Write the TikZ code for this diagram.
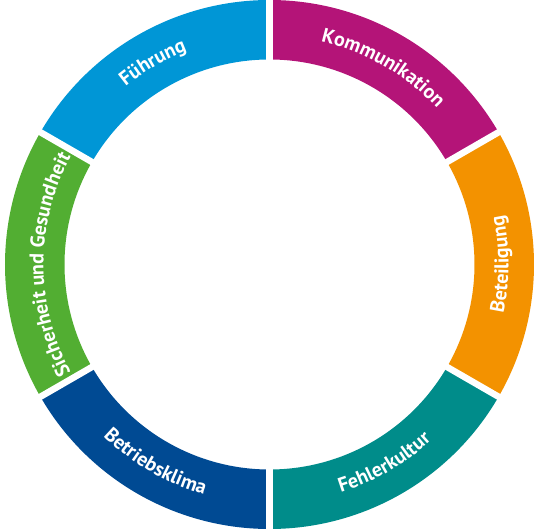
\documentclass[tikz,border=0pt]{standalone}
\usepackage{fontspec}
\setmainfont{PT Sans}
\usetikzlibrary{decorations.text}
\definecolor{FuehrungBlue}{RGB}{0,150,214}
\definecolor{KommMagenta}{RGB}{180,20,120}
\definecolor{BeteilOrange}{RGB}{243,146,0}
\definecolor{FehlerTeal}{RGB}{0,140,138}
\definecolor{KlimaBlue}{RGB}{0,74,147}
\definecolor{SicherGreen}{RGB}{82,174,50}
\newcommand\ringfont{\bfseries\fontsize{20}{20}\selectfont}

\begin{document}
\begin{tikzpicture}[
    x=1pt, y=1pt,
    gap/.style={white, line width=6.5pt},
    ringtext/.style={decorate, decoration={text along path, text align=center,
        text color=white, text={|\ringfont|#1}}}
]
\useasboundingbox (-269.5,-264.5) rectangle (276.5,264.5);
\coordinate (m) at (0,0);
% ring segments
\fill[KommMagenta] (30:205pt) arc[start angle=30, end angle=90, radius=205pt] -- (90:264.5pt) arc[start angle=90, end angle=30, radius=264.5pt] -- cycle;
\fill[FuehrungBlue] (90:205pt) arc[start angle=90, end angle=150, radius=205pt] -- (150:264.5pt) arc[start angle=150, end angle=90, radius=264.5pt] -- cycle;
\fill[SicherGreen] (150:205pt) arc[start angle=150, end angle=210, radius=205pt] -- (210:264.5pt) arc[start angle=210, end angle=150, radius=264.5pt] -- cycle;
\fill[KlimaBlue] (210:205pt) arc[start angle=210, end angle=270, radius=205pt] -- (270:264.5pt) arc[start angle=270, end angle=210, radius=264.5pt] -- cycle;
\fill[FehlerTeal] (270:205pt) arc[start angle=270, end angle=330, radius=205pt] -- (330:264.5pt) arc[start angle=330, end angle=270, radius=264.5pt] -- cycle;
\fill[BeteilOrange] (-30:205pt) arc[start angle=-30, end angle=30, radius=205pt] -- (30:264.5pt) arc[start angle=30, end angle=-30, radius=264.5pt] -- cycle;
% white gaps
\draw[gap] (30:200pt) -- (30:270pt);
\draw[gap] (90:200pt) -- (90:270pt);
\draw[gap] (150:200pt) -- (150:270pt);
\draw[gap] (210:200pt) -- (210:270pt);
\draw[gap] (270:200pt) -- (270:270pt);
\draw[gap] (330:200pt) -- (330:270pt);
% labels along the ring
\path[ringtext=Kommunikation] (100:229pt) arc[start angle=100, end angle=20, radius=229pt];
\path[ringtext=Führung] (160:229pt) arc[start angle=160, end angle=80, radius=229pt];
\path[ringtext=Sicherheit und Gesundheit] (230:226pt) arc[start angle=230, end angle=130, radius=226pt];
\path[ringtext=Betriebsklima] (200:239pt) arc[start angle=200, end angle=280, radius=239pt];
\path[ringtext=Fehlerkultur] (260:239pt) arc[start angle=260, end angle=340, radius=239pt];
\path[ringtext=Beteiligung] (-40:239pt) arc[start angle=-40, end angle=40, radius=239pt];
\end{tikzpicture}
\end{document}
